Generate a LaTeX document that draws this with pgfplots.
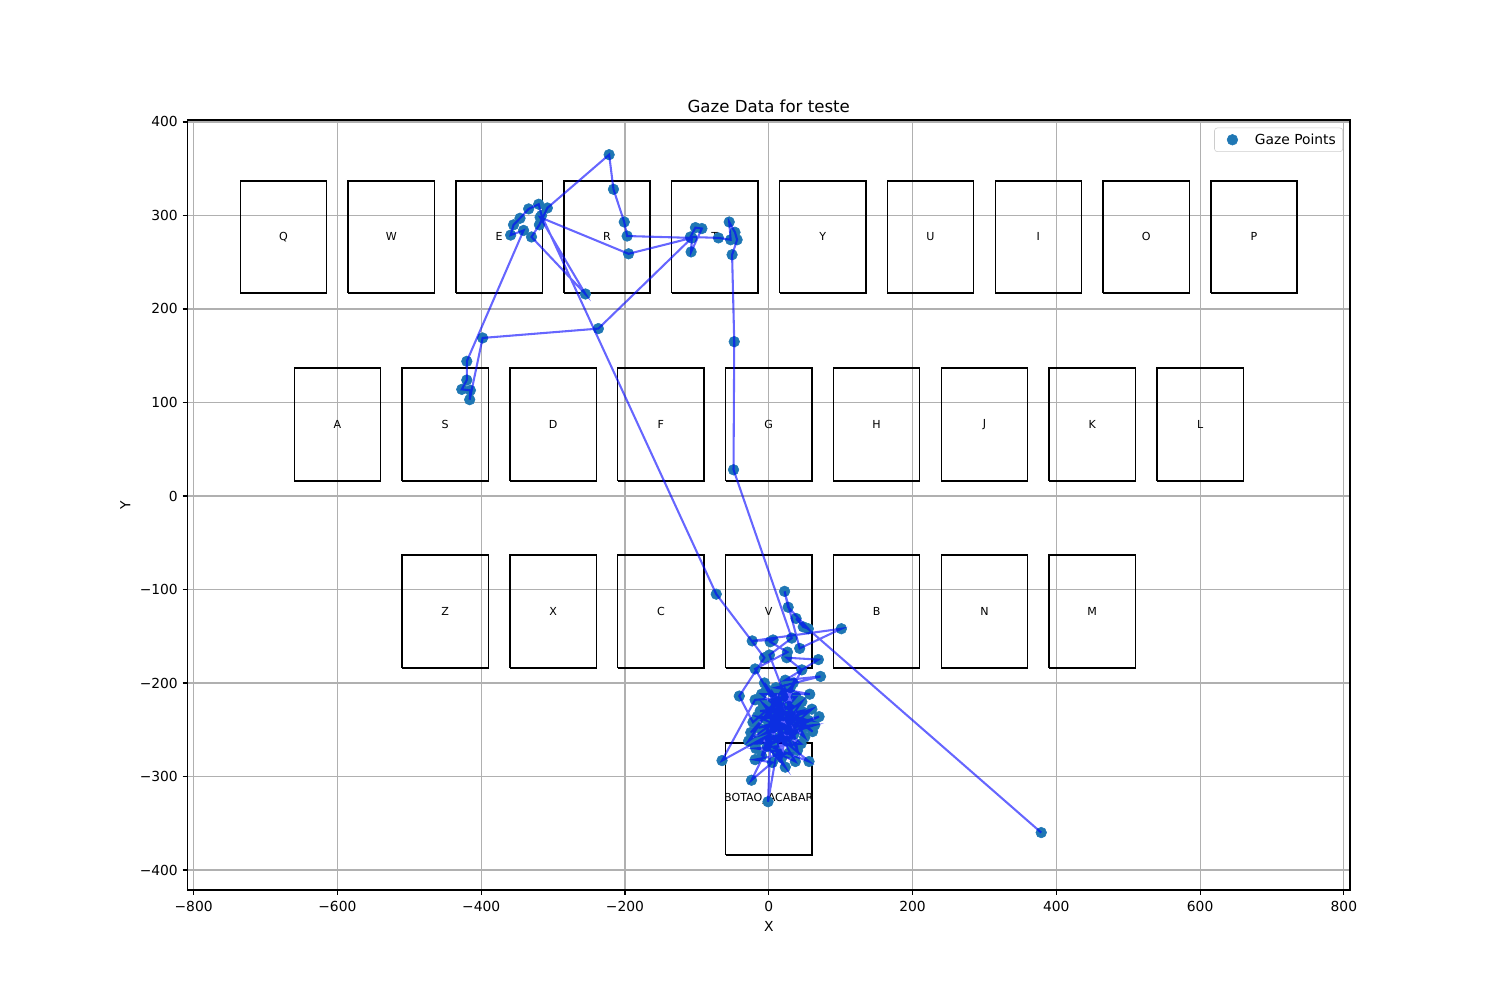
\documentclass[border=0pt]{standalone}
\usepackage{pgfplots}
\pgfplotsset{compat=1.18}
\usepackage{pgfplotstable}
\usepackage{fontspec}
\setmainfont{DejaVu Sans}
\definecolor{c0}{HTML}{1F77B4}
\definecolor{gridgray}{HTML}{B0B0B0}
\definecolor{legedge}{HTML}{CCCCCC}
\pgfplotstableread{
x y
379 -360
38 -131
48 -140
55 -142
27 -119
22 -102
43 -163
101 -142
-23 -155
6 -154
2 -156
26 -167
-19 -185
15 -230
46 -186
25 -173
69 -175
23 -197
72 -193
10 -205
57 -212
-10 -212
40 -245
5 -222
61 -252
-3 -207
35 -225
-12 -230
50 -232
0 -245
20 -215
-25 -253
30 -205
28 -225
1 -170
32 -152
-49 28
-48 165
-51 258
-44 274
-47 282
-55 293
-53 274
-70 276
-109 277
-102 287
-93 286
-108 261
-107 276
-195 259
-318 298
-255 216
-330 277
-319 290
-308 308
-222 365
-216 328
-201 293
-197 278
-107 276
-237 179
-398 169
-416 103
-415 113
-427 114
-420 124
-420 144
-341 284
-359 279
-355 290
-346 297
-334 307
-320 312
-316 300
-73 -105
-6 -173
-41 -214
-22 -242
11 -220
-5 -238
45 -230
-8 -255
70 -236
2 -260
64 -245
18 -248
-65 -283
-19 -218
38 -215
10 -240
48 -248
-15 -262
15 -258
56 -284
8 -270
35 -255
-20 -265
25 -262
52 -245
-2 -268
23 -290
12 -275
37 -284
0 -235
45 -265
-18 -270
28 -275
-19 -282
5 -285
-24 -304
20 -235
-1 -327
5 -210
30 -240
-6 -200
40 -272
22 -205
-10 -278
34 -200
18 -280
12 -232
33 -268
-8 -222
50 -258
18 -208
-28 -262
46 -220
8 -262
60 -228
-14 -248
42 -238
-3 -252
14 -222
26 -250
-16 -236
55 -240
2 -228
6 -248
30 -232
}\gaze
\newcommand\key[4]{%
  \addplot[black, line width=1pt, forget plot] coordinates {(#1,#3) (#2,#3) (#2,#4) (#1,#4) (#1,#3)};}
\begin{document}
\begin{tikzpicture}
\path[use as bounding box] (0,0) rectangle (15in,10in);
\begin{axis}[
  at={(1.875in,1.1in)}, anchor=south west,
  width=11.625in, height=7.7in, scale only axis,
  xmin=-808.5, xmax=808.5, ymin=-421.4, ymax=402.1,
  clip marker paths=true,
  xtick={-800,-600,...,800},
  xticklabels={−800,−600,−400,−200,0,200,400,600,800},
  ytick={-400,-300,...,400},
  yticklabels={−400,−300,−200,−100,0,100,200,300,400},
  grid=major, grid style={gridgray, line width=0.8pt},
  axis line style={line width=0.8pt},
  tick style={black, line width=0.8pt},
  tick align=outside, major tick length=3.5pt,
  xtick pos=lower, ytick pos=left,
  tick label style={font=\fontsize{10}{12}\selectfont},
  xticklabel style={yshift=-1pt},
  label style={font=\fontsize{10}{12}\selectfont},
  xlabel={X}, ylabel={Y},
  title={Gaze Data for teste},
  title style={font=\fontsize{12}{14}\selectfont, yshift=-4pt},
  legend style={at={(0.994,0.99)}, anchor=north east, draw=legedge,
    fill=white, fill opacity=0.8, text opacity=1, rounded corners=2pt,
    font=\fontsize{10}{12}\selectfont, inner xsep=3pt, inner ysep=2pt},
  legend cell align=left,
]
% keys
\key{-735}{-615}{217}{337}
\key{-585}{-465}{217}{337}
\key{-435}{-315}{217}{337}
\key{-285}{-165}{217}{337}
\key{-135}{-15}{217}{337}
\key{15}{135}{217}{337}
\key{165}{285}{217}{337}
\key{315}{435}{217}{337}
\key{465}{585}{217}{337}
\key{615}{735}{217}{337}
\key{-660}{-540}{16}{137}
\key{-510}{-390}{16}{137}
\key{-360}{-240}{16}{137}
\key{-210}{-90}{16}{137}
\key{-60}{60}{16}{137}
\key{90}{210}{16}{137}
\key{240}{360}{16}{137}
\key{390}{510}{16}{137}
\key{540}{660}{16}{137}
\key{-510}{-390}{-184}{-63}
\key{-360}{-240}{-184}{-63}
\key{-210}{-90}{-184}{-63}
\key{-60}{60}{-184}{-63}
\key{90}{210}{-184}{-63}
\key{240}{360}{-184}{-63}
\key{390}{510}{-184}{-63}
\key{-60}{60}{-384}{-264}
\begin{scope}[every node/.style={font=\fontsize{8}{10}\selectfont}]
\node at (axis cs:-675,277) {Q};
\node at (axis cs:-525,277) {W};
\node at (axis cs:-375,277) {E};
\node at (axis cs:-225,277) {R};
\node at (axis cs:-75,277) {T};
\node at (axis cs:75,277) {Y};
\node at (axis cs:225,277) {U};
\node at (axis cs:375,277) {I};
\node at (axis cs:525,277) {O};
\node at (axis cs:675,277) {P};
\node at (axis cs:-600,76.5) {A};
\node at (axis cs:-450,76.5) {S};
\node at (axis cs:-300,76.5) {D};
\node at (axis cs:-150,76.5) {F};
\node at (axis cs:0,76.5) {G};
\node at (axis cs:150,76.5) {H};
\node at (axis cs:300,76.5) {J};
\node at (axis cs:450,76.5) {K};
\node at (axis cs:600,76.5) {L};
\node at (axis cs:-450,-123.5) {Z};
\node at (axis cs:-300,-123.5) {X};
\node at (axis cs:-150,-123.5) {C};
\node at (axis cs:0,-123.5) {V};
\node at (axis cs:150,-123.5) {B};
\node at (axis cs:300,-123.5) {N};
\node at (axis cs:450,-123.5) {M};
\node at (axis cs:0,-324) {BOTAO\_ACABAR};
\end{scope}
\addplot[only marks, mark=*, mark size=3.85pt, mark options={fill=c0, draw=c0},
  legend image code/.code={\path[draw=none, fill=none] (0cm,0cm) -- (0.85cm,0cm);
    \draw[only marks, fill opacity=1, draw opacity=1] plot coordinates {(0.35cm,0cm)};}] table[x=x,y=y] {\gaze};
\addlegendentry{Gaze Points}
\addplot[blue, opacity=0.6, line width=1.5pt, forget plot] table[x=x,y=y] {\gaze};
\end{axis}
\end{tikzpicture}
\end{document}
